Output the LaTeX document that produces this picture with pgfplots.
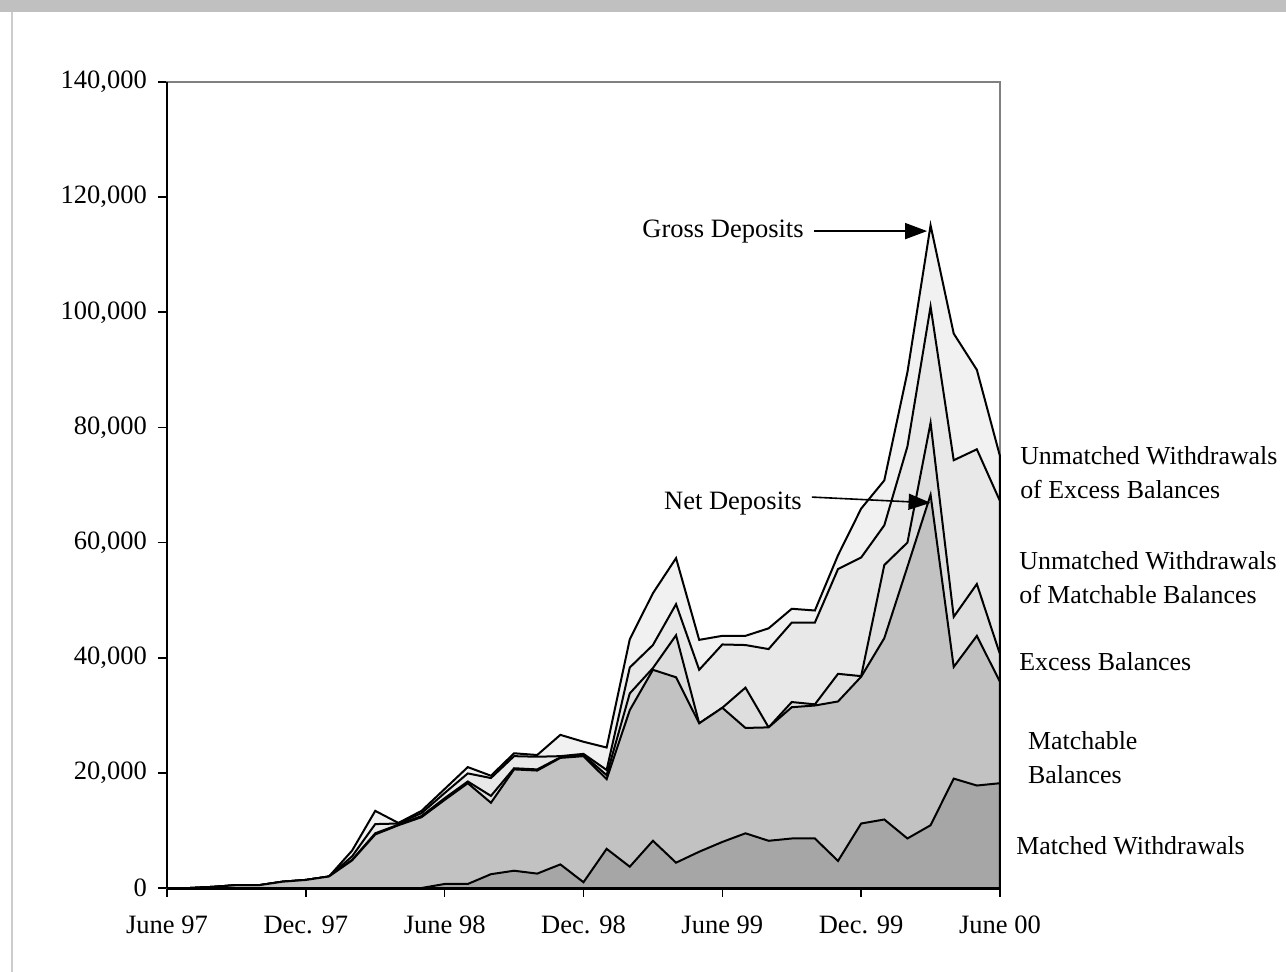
\documentclass[border=0pt]{standalone}
\usepackage{pgfplots}
\pgfplotsset{compat=1.18}
\usepackage{pgfplotstable}
\usepackage{fontspec}
\setmainfont{Liberation Serif}
\usetikzlibrary{arrows.meta}

\definecolor{cTop}{HTML}{F1F1F1}
\definecolor{cUnm}{HTML}{E8E8E8}
\definecolor{cExc}{HTML}{DEDEDE}
\definecolor{cMab}{HTML}{C2C2C2}
\definecolor{cMat}{HTML}{A6A6A6}
\definecolor{cBand}{HTML}{C0C0C0}

% cumulative boundaries of the stacked layers, month index 0 = June 97
\pgfplotstableread{
i  matched matchable excess unmm   gross
0  0       0         0      0      0
1  0       0         0      0      0
2  0       200       200    200    200
3  0       500       500    500    500
4  0       500       500    500    500
5  0       1100      1100   1100   1100
6  0       1400      1400   1400   1400
7  0       2000      2000   2000   2000
8  0       4800      4900   5500   6500
9  0       9300      9500   11100  13400
10 0       10900     11000  11200  11300
11 0       12300     12500  13000  13400
12 700     15300     15600  16500  17200
13 700     18200     18500  19900  21000
14 2400    14800     16000  19100  19500
15 3000    20600     20800  22900  23400
16 2500    20400     20600  22800  23100
17 4100    22600     22700  22900  26600
18 1000    22900     23100  23300  25400
19 6800    18900     19600  20500  24400
20 3700    30900     33800  38300  43200
21 8200    37900     38200  42200  51200
22 4400    36600     43900  49300  57300
23 6300    28600     28600  37900  43100
24 8000    31300     31300  42300  43800
25 9500    27800     34800  42200  43800
26 8200    27900     27900  41500  45100
27 8600    31400     32300  46100  48500
28 8600    31700     31900  46100  48200
29 4700    32400     37200  55400  57800
30 11200   36700     36800  57400  65900
31 11900   43400     56100  63000  70800
32 8600    55800     60000  76700  89600
33 10900   68300     80800  101000 115100
34 19000   38400     47100  74300  96300
35 17800   43800     52800  76200  90000
36 18200   35800     40600  67200  75000
}\deposits

\begin{document}
\fontsize{13.3}{17}\selectfont
\begin{tikzpicture}
\path[use as bounding box] (-83.5bp,-42bp) rectangle (559.5bp,444bp);
\fill[white] (-83.5bp,-42bp) rectangle (559.5bp,444bp);
\fill[cBand] (-83.5bp,438bp) rectangle (559.5bp,444bp);
\draw[line width=1bp, gray!40] (-77.5bp,-42bp) -- (-77.5bp,438bp);
\begin{axis}[
    at={(0,0)}, anchor=south west,
    scale only axis, width=416.5bp, height=403bp,
    xmin=0, xmax=36, ymin=0, ymax=140000,
    axis line style={draw=gray, line width=1bp},
    xtick={0,6,...,36},
    xticklabels={June 97,Dec. 97,June 98,Dec. 98,June 99,Dec. 99,June 00},
    ytick={0,20000,...,140000},
    xtick pos=left, ytick pos=left,
    tick align=outside, major tick length=4.5bp,
    tick style={black, line width=0.8bp},
    scaled y ticks=false,
    yticklabel style={xshift=-1bp, /pgf/number format/.cd, fixed, 1000 sep={,}, assume math mode=true},
    xticklabel style={yshift=-5bp},
    clip=false,
]
\addplot[fill=cTop, draw=black, line width=1bp] table[x=i, y=gross] {\deposits} \closedcycle;
\addplot[fill=cUnm, draw=black, line width=1bp] table[x=i, y=unmm] {\deposits} \closedcycle;
\addplot[fill=cExc, draw=black, line width=1bp] table[x=i, y=excess] {\deposits} \closedcycle;
\addplot[fill=cMab, draw=black, line width=1bp] table[x=i, y=matchable] {\deposits} \closedcycle;
\addplot[fill=cMat, draw=black, line width=1bp] table[x=i, y=matched] {\deposits} \closedcycle;

\draw[black, line width=1bp] (rel axis cs:0,1) -- (rel axis cs:0,0);
\draw[black, line width=1.5bp] (rel axis cs:0,0) -- (rel axis cs:1,0);

\node at (axis cs:24.03,114100) {Gross Deposits};
\draw[line width=0.8bp, -{Triangle[length=11bp,width=8bp]}] (axis cs:27.95,114100) -- (axis cs:32.85,114100);
\node at (axis cs:24.46,66700) {Net Deposits};
\draw[line width=0.8bp, -{Triangle[length=11bp,width=8bp]}] (axis cs:27.87,67900) -- (axis cs:33.0,66900);

\begin{scope}[every node/.style={anchor=west, align=left, inner xsep=0pt, font=\fontsize{13}{17}\selectfont}]
\node at (axis cs:36.86,72100) {Unmatched Withdrawals\\of Excess Balances};
\node at (axis cs:36.82,53850) {Unmatched Withdrawals\\of Matchable Balances};
\node at (axis cs:36.82,39260) {Excess Balances};
\node at (axis cs:37.2,22580) {Matchable\\Balances};
\node at (axis cs:36.69,7300) {Matched Withdrawals};
\end{scope}
\end{axis}
\end{tikzpicture}
\end{document}
